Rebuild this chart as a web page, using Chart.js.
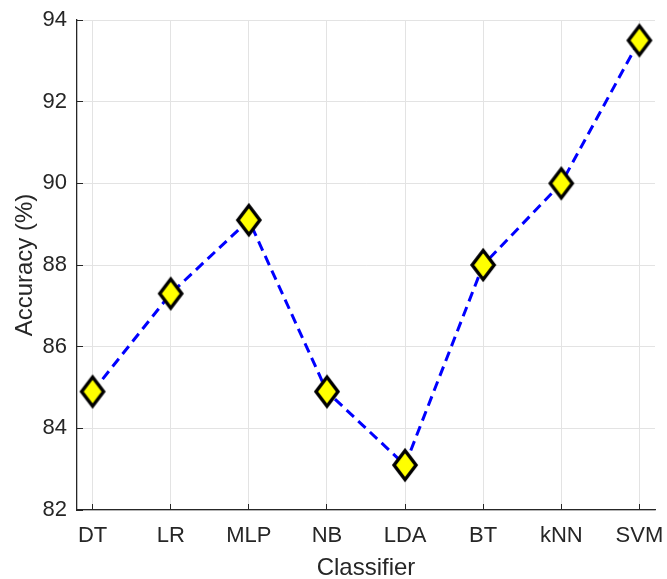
<!DOCTYPE html>
<html>
<head>
<meta charset="utf-8">
<script src="https://cdn.jsdelivr.net/npm/chart.js@4/dist/chart.umd.min.js"></script>
<style>
  html, body { margin: 0; padding: 0; background: #ffffff; }
  #wrap { width: 667px; height: 579px; }
</style>
</head>
<body>
<div id="wrap"><canvas id="c" width="667" height="579"></canvas></div>
<script>
// Classifier accuracy comparison
const classifiers = ['DT', 'LR', 'MLP', 'NB', 'LDA', 'BT', 'kNN', 'SVM'];
const accuracy = [84.9, 87.3, 89.1, 84.9, 83.1, 88.0, 90.0, 93.5];
const yTicks = [82, 84, 86, 88, 90, 92, 94];

const FONT = '"Liberation Sans", Arial, Helvetica, sans-serif';
const INK = '#262626';
const GRID = '#e3e3e3';

// Yellow diamond marker with a thick black outline
function diamondMarker() {
  const w = 32, h = 40, a = 11, b = 14.5;
  const cv = document.createElement('canvas');
  cv.width = w; cv.height = h;
  const g = cv.getContext('2d');
  g.beginPath();
  g.moveTo(w / 2, h / 2 - b);
  g.lineTo(w / 2 + a, h / 2);
  g.lineTo(w / 2, h / 2 + b);
  g.lineTo(w / 2 - a, h / 2);
  g.closePath();
  g.fillStyle = '#ffff00';
  g.fill();
  g.lineWidth = 3.4;
  g.lineJoin = 'miter';
  g.strokeStyle = '#000000';
  g.stroke();
  return cv;
}

// Keep the plot box fixed: no automatic edge padding for tick labels
function noEdgePadding(s) {
  s.paddingLeft = 0; s.paddingRight = 0; s.paddingTop = 0; s.paddingBottom = 0;
}

const points = classifiers.map((name, i) => ({ x: i, y: accuracy[i] }));

new Chart(document.getElementById('c'), {
  type: 'line',
  data: {
    datasets: [{
      data: points,
      borderColor: '#0000ff',
      borderWidth: 3,
      borderDash: [10, 6],
      tension: 0,
      fill: false,
      clip: false,
      pointStyle: diamondMarker(),
      pointRadius: 14,
      pointHoverRadius: 14
    }]
  },
  options: {
    responsive: false,
    animation: false,
    devicePixelRatio: 1,
    layout: { autoPadding: false, padding: { top: 20, right: 12, left: 0, bottom: 0 } },
    plugins: { legend: { display: false }, tooltip: { enabled: false } },
    scales: {
      x: {
        type: 'linear',
        min: -0.2,
        max: 7.2,
        afterFit: s => { s.height = 69; noEdgePadding(s); },
        afterBuildTicks: s => { s.ticks = classifiers.map((_, i) => ({ value: i })); },
        ticks: {
          autoSkip: false,
          maxRotation: 0,
          padding: 19,
          color: INK,
          font: { family: FONT, size: 22 },
          callback: v => classifiers[v]
        },
        grid: { color: GRID, lineWidth: 1, drawTicks: true, tickLength: -6, tickColor: INK, tickWidth: 1 },
        border: { display: true, color: INK, width: 1.3 },
        title: {
          display: true,
          text: 'Classifier',
          color: INK,
          font: { family: FONT, size: 24, lineHeight: 1 },
          padding: { top: 0, bottom: -1 }
        }
      },
      y: {
        min: 82,
        max: 94,
        afterFit: s => { s.width = 77; noEdgePadding(s); },
        afterBuildTicks: s => { s.ticks = yTicks.map(v => ({ value: v })); },
        ticks: {
          padding: 16,
          color: INK,
          font: { family: FONT, size: 22 }
        },
        grid: { color: GRID, lineWidth: 1, drawTicks: true, tickLength: -6, tickColor: INK, tickWidth: 1 },
        border: { display: true, color: INK, width: 1.3 },
        title: {
          display: true,
          text: 'Accuracy (%)',
          color: INK,
          font: { family: FONT, size: 24, lineHeight: 1 },
          padding: { top: 13, bottom: 0 }
        }
      }
    }
  }
});
</script>
</body>
</html>
